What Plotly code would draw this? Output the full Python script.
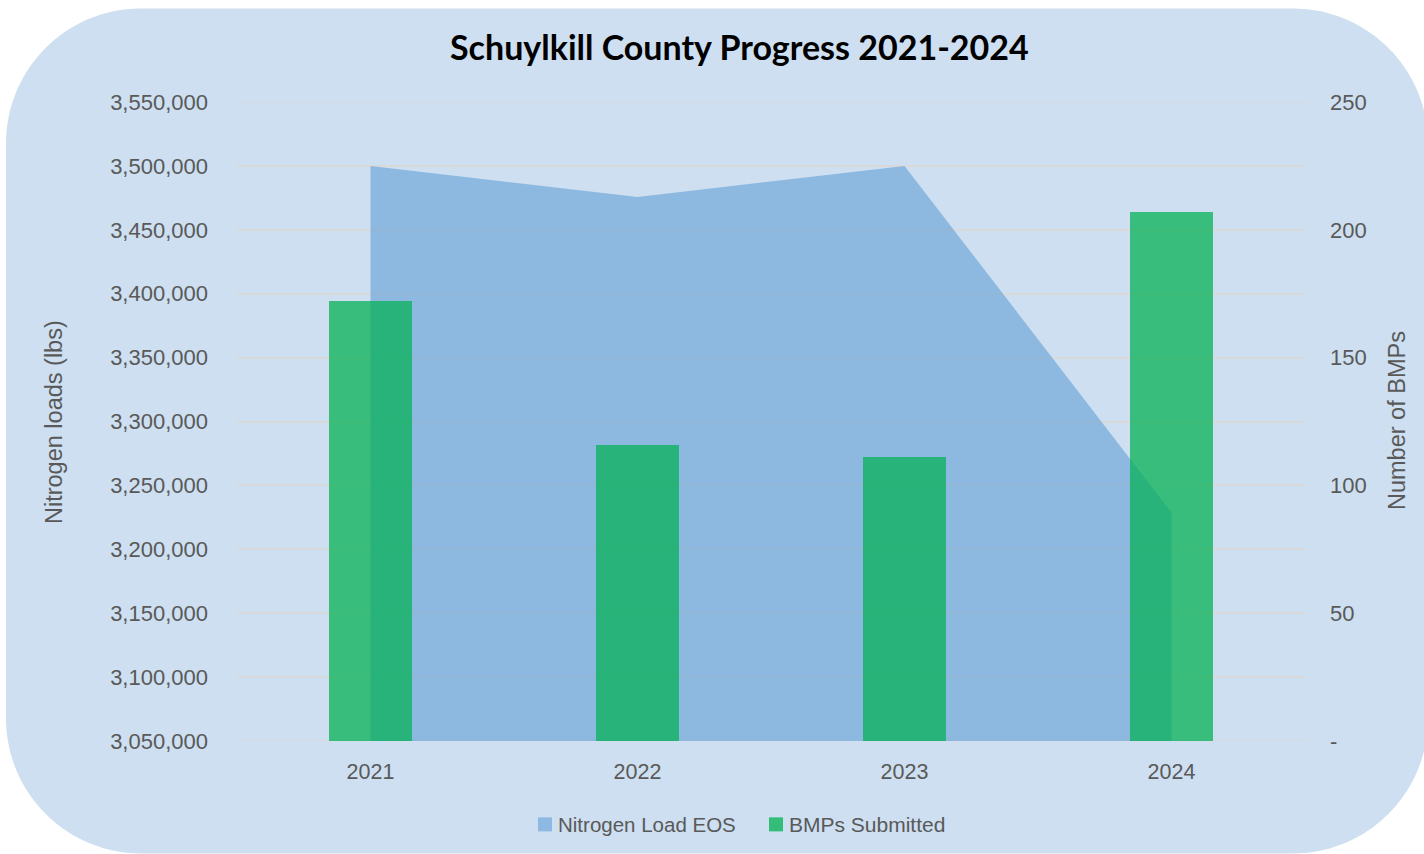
import plotly.graph_objects as go

# ---- data ----
years = ["2021", "2022", "2023", "2024"]
nitrogen_load = [3500000, 3475600, 3500000, 3228600]
bmps_submitted = [172, 116, 111, 207]
y1_ticks = [3050000 + 50000 * i for i in range(11)]
y2_tickvals = [0, 50, 100, 150, 200, 250]
y2_ticktext = ["-", "50", "100", "150", "200", "250"]

W, H = 1424, 854
L, R, T, B = 237, 1305, 102.3, 740.7  # plot area in pixels


def px(x):
    return (x - L) / (R - L)


def py(y):
    return (B - y) / (B - T)


FONT = "Liberation Sans"
GREY = "#595959"
BG = "#CDDFF0"
GRID = "#D9D9D9"

fig = go.Figure()

fig.add_trace(go.Scatter(
    x=years, y=nitrogen_load, name="Nitrogen Load EOS",
    mode="none", fill="tozeroy", fillcolor="rgba(91,155,213,0.56)",
    yaxis="y", showlegend=False, hoverinfo="x+y",
))
fig.add_trace(go.Bar(
    x=years, y=bmps_submitted, name="BMPs Submitted",
    marker=dict(color="rgba(0,176,80,0.72)", line=dict(width=0)),
    width=0.311, yaxis="y2", showlegend=False,
))

# rounded background panel (pixel geometry -> paper coords)
x0, x1, y0, y1, r = 6, 1428, 9, 853, 135
k = 0.5523 * r
pts = [
    ("M", [(x0 + r, y0)]),
    ("L", [(x1 - r, y0)]),
    ("C", [(x1 - r + k, y0), (x1, y0 + r - k), (x1, y0 + r)]),
    ("L", [(x1, y1 - r)]),
    ("C", [(x1, y1 - r + k), (x1 - r + k, y1), (x1 - r, y1)]),
    ("L", [(x0 + r, y1)]),
    ("C", [(x0 + r - k, y1), (x0, y1 - r + k), (x0, y1 - r)]),
    ("L", [(x0, y0 + r)]),
    ("C", [(x0, y0 + r - k), (x0 + r - k, y0), (x0 + r, y0)]),
]
path = ""
for cmd, ps in pts:
    path += cmd + " ".join(f"{px(a):.5f},{py(b):.5f}" for a, b in ps)
path += "Z"

shapes = [dict(type="path", path=path, xref="paper", yref="paper",
               fillcolor=BG, line=dict(width=0), layer="below")]

# gridlines at the two ends of the value range
for v in (y1_ticks[0], y1_ticks[-1]):
    shapes.append(dict(type="line", xref="paper", yref="y", x0=0, x1=1, y0=v, y1=v,
                       line=dict(color=GRID, width=1.5), layer="below"))

# legend squares
shapes.append(dict(type="rect", xref="paper", yref="paper",
                   x0=px(538), x1=px(552), y0=py(831), y1=py(817),
                   fillcolor="rgb(141,185,227)", line=dict(width=0)))
shapes.append(dict(type="rect", xref="paper", yref="paper",
                   x0=px(769), x1=px(783), y0=py(831), y1=py(817),
                   fillcolor="rgb(52,189,120)", line=dict(width=0)))

annotations = [
    dict(text="<b>Schuylkill County Progress 2021-2024</b>", xref="paper", yref="paper",
         x=px(739), y=py(47), showarrow=False, xanchor="center", yanchor="middle",
         font=dict(family="Lato", size=34, color="#000000")),
    dict(text="Nitrogen loads (lbs)", xref="paper", yref="paper",
         x=px(54), y=py(422), showarrow=False, textangle=-90,
         xanchor="center", yanchor="middle",
         font=dict(family=FONT, size=23.5, color=GREY)),
    dict(text="Number of BMPs", xref="paper", yref="paper",
         x=px(1397), y=py(421), showarrow=False, textangle=-90,
         xanchor="center", yanchor="middle",
         font=dict(family=FONT, size=23.5, color=GREY)),
    dict(text="Nitrogen Load EOS", xref="paper", yref="paper",
         x=px(556), y=py(824), showarrow=False, xanchor="left", yanchor="middle",
         font=dict(family=FONT, size=20.5, color=GREY)),
    dict(text="BMPs Submitted", xref="paper", yref="paper",
         x=px(787), y=py(824), showarrow=False, xanchor="left", yanchor="middle",
         font=dict(family=FONT, size=21, color=GREY)),
]

fig.update_layout(
    width=W, height=H,
    margin=dict(l=L, r=W - R, t=T, b=H - B, pad=0),
    paper_bgcolor="white",
    plot_bgcolor="rgba(0,0,0,0)",
    showlegend=False,
    bargap=0,
    shapes=shapes,
    annotations=annotations,
    xaxis=dict(
        type="category", range=[-0.5, 3.5], showgrid=False, zeroline=False,
        showline=False, ticks="", ticklabelstandoff=15,
        tickfont=dict(family=FONT, size=21.5, color=GREY),
    ),
    yaxis=dict(
        range=[3050000, 3550000], tickvals=y1_ticks, tickformat=",d",
        showgrid=True, gridcolor=GRID, gridwidth=1.5,
        zeroline=False, showline=False, ticks="", ticklabelstandoff=28,
        tickfont=dict(family=FONT, size=22, color=GREY),
    ),
    yaxis2=dict(
        range=[0, 250], tickvals=y2_tickvals, ticktext=y2_ticktext,
        overlaying="y", side="right", showgrid=False, zeroline=False,
        showline=False, ticks="", ticklabelstandoff=24,
        tickfont=dict(family=FONT, size=22, color=GREY),
    ),
)

fig.write_html("out.html")
